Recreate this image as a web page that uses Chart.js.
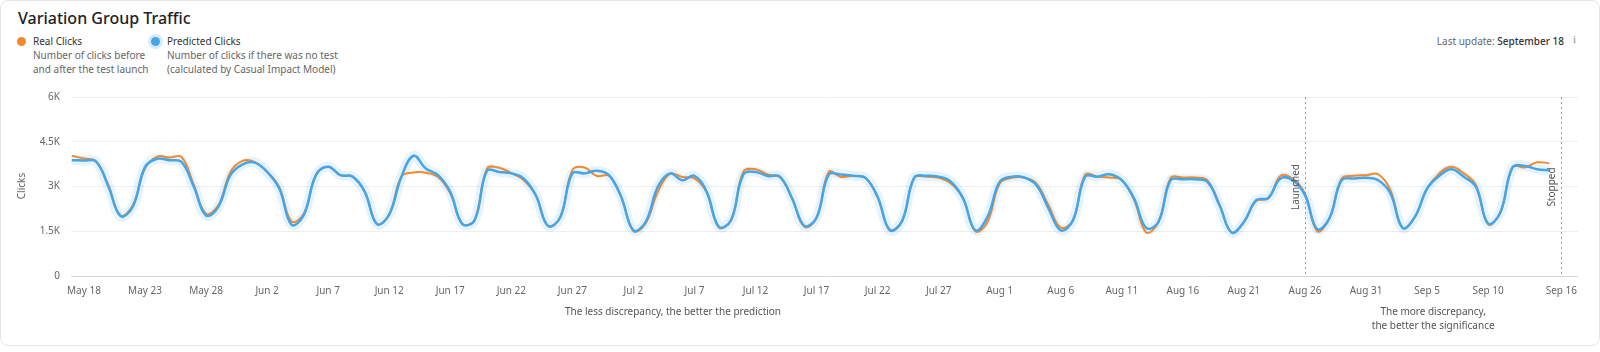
<!DOCTYPE html>
<html>
<head>
<meta charset="utf-8">
<title>Variation Group Traffic</title>
<script src="https://cdn.jsdelivr.net/npm/chart.js@4.4.1/dist/chart.umd.min.js"></script>
<style>
  body { margin: 0; width: 1600px; height: 352px; background: #fff; overflow: hidden;
         font-family: 'Noto Sans', sans-serif; color: #222; }
  .card { position: absolute; left: 0; top: 0; width: 1598px; height: 344px;
          border: 1px solid #e6e6e6; border-radius: 8px; }
  h1 { position: absolute; left: 18px; top: 7px; margin: 0; font-size: 16px; font-weight: 500; color: #222; }
  .leg { position: absolute; top: 34px; font-size: 10px; line-height: 14px; color: #666; }
  .leg b { display: block; font-weight: 400; color: #333; }
  .dot { position: absolute; left: -16px; top: 3px; width: 9px; height: 9px; border-radius: 50%; }
  .upd { position: absolute; right: 36px; top: 34px; font-size: 10px; color: #666; }
  .upd b { font-weight: 500; color: #333; }
  .info { position: absolute; right: 24px; top: 33px; font-size: 11px; color: #888; font-family: serif; }
  canvas { position: absolute; left: 0; top: 0; }
</style>
</head>
<body>
<div class="card"></div>
<h1>Variation Group Traffic</h1>
<div class="leg" style="left:33px"><span class="dot" style="background:#f5882a"></span><b>Real Clicks</b>Number of clicks before<br>and after the test launch</div>
<div class="leg" style="left:167px"><span class="dot" style="background:#45a5e6;box-shadow:0 0 0 3px rgba(69,165,230,0.22)"></span><b>Predicted Clicks</b>Number of clicks if there was no test<br>(calculated by Casual Impact Model)</div>
<div class="upd">Last update: <b>September 18</b></div>
<div class="info">i</div>
<canvas id="trafficChart" width="1600" height="352"></canvas>
<script>
// day 0 = May 18, first point is May 17
const startDay = -1;
const realClicks = [
  4030, 3940, 3850, 3050, 2030, 2370, 3600, 4000, 3970, 3990,
  3050, 2090, 2370, 3490, 3860, 3820, 3490, 2980, 1830, 2090,
  3380, 3660, 3380, 3330, 2820, 1740, 2060, 3330, 3470, 3460,
  3320, 2770, 1740, 1890, 3600, 3630, 3450, 3220, 2710, 1680,
  1960, 3550, 3640, 3350, 3360, 2650, 1510, 1760, 2820, 3420,
  3320, 3270, 2800, 1620, 1890, 3490, 3580, 3400, 3310, 2600,
  1650, 1940, 3490, 3320, 3350, 3290, 2650, 1560, 1840, 3290,
  3330, 3290, 3100, 2600, 1500, 1810, 3100, 3290, 3300, 3100,
  2370, 1620, 1870, 3400, 3330, 3300, 3210, 2550, 1460, 1810,
  3290, 3300, 3300, 3210, 2400, 1450, 1810, 2510, 2600, 3360,
  3260, 2760, 1500, 1930, 3270, 3360, 3380, 3410, 2880, 1610,
  1980, 2930, 3440, 3660, 3440, 3050, 1730, 2130, 3660, 3640,
  3810, 3780
];
const predictedClicks = [
  3880, 3870, 3830, 3000, 2010, 2320, 3650, 3930, 3880, 3820,
  2990, 2030, 2320, 3380, 3740, 3800, 3490, 2930, 1720, 2040,
  3380, 3660, 3380, 3330, 2820, 1740, 2060, 3330, 4030, 3600,
  3380, 2820, 1740, 1870, 3520, 3490, 3440, 3270, 2710, 1680,
  1960, 3440, 3440, 3530, 3380, 2650, 1530, 1810, 2990, 3440,
  3210, 3360, 2820, 1650, 1870, 3400, 3490, 3350, 3330, 2600,
  1680, 1960, 3400, 3400, 3360, 3290, 2650, 1530, 1840, 3300,
  3360, 3330, 3160, 2600, 1530, 1980, 3160, 3330, 3300, 3050,
  2260, 1530, 1870, 3330, 3330, 3410, 3210, 2600, 1610, 1810,
  3210, 3240, 3240, 3160, 2370, 1460, 1810, 2540, 2620, 3270,
  3210, 2710, 1570, 1930, 3210, 3270, 3290, 3210, 2770, 1610,
  1980, 2930, 3360, 3580, 3330, 2990, 1760, 2130, 3640, 3690,
  3580, 3540
];
const tickDays = [0, 5, 10, 15, 20, 25, 30, 35, 40, 45, 50, 55, 60, 65, 70, 75, 80, 85, 90, 95, 100, 105, 110, 115, 121];
const tickLabels = ['May 18', 'May 23', 'May 28', 'Jun 2', 'Jun 7', 'Jun 12', 'Jun 17', 'Jun 22', 'Jun 27',
  'Jul 2', 'Jul 7', 'Jul 12', 'Jul 17', 'Jul 22', 'Jul 27', 'Aug 1', 'Aug 6', 'Aug 11', 'Aug 16',
  'Aug 21', 'Aug 26', 'Aug 31', 'Sep 5', 'Sep 10', 'Sep 16'];
const yTicks = [0, 1500, 3000, 4500, 6000];
const yTickLabels = ['0', '1.5K', '3K', '4.5K', '6K'];
const markers = [{ day: 100, label: 'Launched' }, { day: 121, label: 'Stopped' }];

const FONT = "'Noto Sans', sans-serif";
const toPoints = arr => arr.map((v, i) => ({ x: startDay + i, y: v }));

// dotted lines, rotated labels, axis title and the notes under the axis
const notesPlugin = {
  id: 'notes',
  beforeDatasetsDraw(chart) {
    const { ctx, chartArea, scales } = chart;
    ctx.save();
    ctx.strokeStyle = '#9a9a9a';
    ctx.lineWidth = 1;
    ctx.setLineDash([2, 3]);
    markers.forEach(m => {
      const x = Math.round(scales.x.getPixelForValue(m.day)) + 0.5;
      ctx.beginPath();
      ctx.moveTo(x, chartArea.top);
      ctx.lineTo(x, chartArea.bottom);
      ctx.stroke();
    });
    ctx.restore();
  },
  afterDraw(chart) {
    const { ctx, scales } = chart;
    ctx.save();
    ctx.fillStyle = '#555';
    ctx.font = '10px ' + FONT;
    ctx.textAlign = 'center';
    ctx.textBaseline = 'middle';
    markers.forEach(m => {
      const x = scales.x.getPixelForValue(m.day);
      ctx.save();
      ctx.translate(x - 9, 187);
      ctx.rotate(-Math.PI / 2);
      ctx.fillText(m.label, 0, 0);
      ctx.restore();
    });
    ctx.save();
    ctx.fillStyle = '#666';
    ctx.translate(22, 186);
    ctx.rotate(-Math.PI / 2);
    ctx.fillText('Clicks', 0, 0);
    ctx.restore();

    ctx.fillStyle = '#555';
    ctx.fillText('The less discrepancy, the better the prediction', 673, 312);
    const launchX = scales.x.getPixelForValue(markers[0].day);
    const stopX = scales.x.getPixelForValue(markers[1].day);
    const mid = (launchX + stopX) / 2;
    ctx.fillText('The more discrepancy,', mid, 312);
    ctx.fillText('the better the significance', mid, 326);
    ctx.restore();
  }
};

new Chart(document.getElementById('trafficChart').getContext('2d'), {
  type: 'line',
  data: {
    datasets: [
      {
        label: 'Real Clicks',
        data: toPoints(realClicks),
        borderColor: '#f5882a',
        borderWidth: 2,
        pointRadius: 0,
        tension: 0.4,
        order: 2
      },
      {
        label: 'Predicted Clicks',
        data: toPoints(predictedClicks),
        borderColor: '#45a5e6',
        borderWidth: 2.5,
        pointRadius: 0,
        tension: 0.4,
        order: 1
      },
      {
        label: 'Confidence',
        data: toPoints(predictedClicks),
        borderColor: 'rgba(69,165,230,0.13)',
        borderWidth: 10,
        pointRadius: 0,
        tension: 0.4,
        order: 3
      }
    ]
  },
  options: {
    responsive: false,
    animation: false,
    devicePixelRatio: 1,
    layout: { padding: { left: 0, right: 22, top: 97, bottom: 0 } },
    plugins: {
      legend: { display: false },
      tooltip: { enabled: false }
    },
    scales: {
      x: {
        type: 'linear',
        min: -1.06,
        max: 122.36,
        afterBuildTicks: scale => { scale.ticks = tickDays.map(v => ({ value: v })); },
        afterFit: scale => { scale.height = 76; },
        grid: { display: false, drawTicks: false },
        border: { display: false },
        ticks: {
          padding: 9,
          autoSkip: false,
          maxRotation: 0,
          color: '#666',
          font: { family: FONT, size: 10 },
          callback: v => tickLabels[tickDays.indexOf(v)]
        }
      },
      y: {
        min: 0,
        max: 6000,
        afterBuildTicks: scale => { scale.ticks = yTicks.map(v => ({ value: v })); },
        afterFit: scale => { scale.width = 71; },
        grid: {
          drawTicks: false,
          color: ctx => ctx.tick && ctx.tick.value === 0 ? '#d3d6d9' : '#eceef0'
        },
        border: { display: false },
        ticks: {
          padding: 11,
          color: '#666',
          font: { family: FONT, size: 10 },
          callback: v => yTickLabels[yTicks.indexOf(v)]
        }
      }
    }
  },
  plugins: [notesPlugin]
});
</script>
</body>
</html>
